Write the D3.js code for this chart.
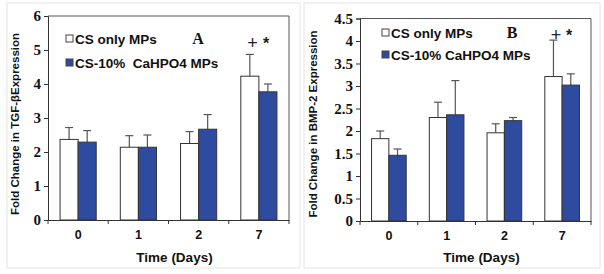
<!DOCTYPE html>
<html lang="en">
<head>
<meta charset="utf-8">
<title>Fold change bars</title>
<script src="https://d3js.org/d3.v7.min.js"></script>
<style>
  body { margin: 0; background: #fff; }
  svg { display: block; }
  .leg { white-space: pre; }
</style>
</head>
<body>
<script>
// data
const days = ["0", "1", "2", "7"];
const seriesNamesA = ["CS only MPs", "CS-10%  CaHPO4 MPs"];
const seriesNamesB = ["CS only MPs", "CS-10% CaHPO4 MPs"];

const tgfCS     = [2.37, 2.14, 2.25, 4.23];
const tgfCSErr  = [0.35, 0.34, 0.35, 0.64];
const tgfCa     = [2.29, 2.14, 2.67, 3.77];
const tgfCaErr  = [0.34, 0.36, 0.43, 0.23];

const bmpCS     = [1.83, 2.30, 1.96, 3.21];
const bmpCSErr  = [0.17, 0.34, 0.20, 0.81];
const bmpCa     = [1.46, 2.36, 2.23, 3.02];
const bmpCaErr  = [0.14, 0.76, 0.07, 0.25];

const tgfTicks = [0, 1, 2, 3, 4, 5, 6];
const bmpTicks = [0, 0.5, 1, 1.5, 2, 2.5, 3, 3.5, 4, 4.5];

const W = 604, H = 274;
const blue = "#2f4b9f";

const svg = d3.select("body").append("svg")
  .attr("width", W).attr("height", H);

function panel(opt) {
  const g = svg.append("g");

  // faint frame round each panel
  g.append("rect")
    .attr("x", opt.frame[0]).attr("y", opt.frame[1])
    .attr("width", opt.frame[2]).attr("height", opt.frame[3])
    .attr("fill", "none").attr("stroke", "#e4e4e4");

  const x = d3.scaleBand().domain(days).range([opt.left, opt.right]);
  const y = d3.scaleLinear().domain([0, opt.max]).range([opt.bottom, opt.top]);
  const bw = x.bandwidth() * 0.3;

  const rows = days.map((d, i) => ({
    day: d,
    v: [opt.cs[i], opt.ca[i]],
    e: [opt.csErr[i], opt.caErr[i]]
  }));

  // bars
  const grp = g.selectAll(".grp").data(rows).enter().append("g")
    .attr("transform", d => "translate(" + (x(d.day) + x.bandwidth() * 0.2) + ",0)");

  [0, 1].forEach(k => {
    grp.append("line")
      .attr("x1", k * bw + bw / 2).attr("x2", k * bw + bw / 2)
      .attr("y1", d => y(d.v[k])).attr("y2", d => y(d.v[k] + d.e[k]))
      .attr("stroke", "#555").attr("stroke-width", 1.2);
    grp.append("line")
      .attr("x1", k * bw + bw / 2 - 4).attr("x2", k * bw + bw / 2 + 4)
      .attr("y1", d => y(d.v[k] + d.e[k])).attr("y2", d => y(d.v[k] + d.e[k]))
      .attr("stroke", "#555").attr("stroke-width", 1.2);
    grp.append("rect")
      .attr("x", k * bw).attr("width", bw)
      .attr("y", d => y(d.v[k]))
      .attr("height", d => y(0) - y(d.v[k]))
      .attr("fill", k === 0 ? "#fff" : blue)
      .attr("stroke", "#333").attr("stroke-width", 1);
  });

  // plot box
  g.append("path")
    .attr("d", "M" + opt.left + "," + opt.top + "H" + opt.right + "V" + opt.bottom)
    .attr("fill", "none").attr("stroke", "#555").attr("stroke-width", 1);

  // left axis
  const la = g.append("g")
    .attr("transform", "translate(" + opt.left + ",0)")
    .call(d3.axisLeft(y).tickValues(opt.ticks).tickFormat(d => String(d))
      .tickSize(4).tickPadding(3));
  la.select(".domain").attr("stroke", "#333");
  la.selectAll(".tick line").attr("stroke", "#333");
  la.selectAll("text")
    .attr("font-family", "Liberation Serif, serif")
    .attr("font-weight", "bold").attr("font-size", 15).attr("fill", "#111");

  // bottom axis: ticks between groups
  const ba = g.append("g")
    .attr("transform", "translate(0," + opt.bottom + ")")
    .call(d3.axisBottom(x).tickSize(0).tickPadding(10));
  ba.select(".domain").attr("stroke", "#333");
  ba.selectAll("text")
    .attr("font-family", "Liberation Sans, Arial, sans-serif")
    .attr("font-weight", "bold").attr("font-size", 12.5).attr("fill", "#111");
  ba.selectAll(".sep").data(days).enter().append("line")
    .attr("x1", d => x(d)).attr("x2", d => x(d))
    .attr("y1", 0).attr("y2", 4).attr("stroke", "#333");
  ba.append("line")
    .attr("x1", opt.right).attr("x2", opt.right)
    .attr("y1", 0).attr("y2", 4).attr("stroke", "#333");

  // axis titles
  g.append("text")
    .attr("x", (opt.left + opt.right) / 2 + 6).attr("y", 262)
    .attr("text-anchor", "middle")
    .attr("font-family", "Liberation Sans, Arial, sans-serif")
    .attr("font-weight", "bold").attr("font-size", 13.5).attr("fill", "#111")
    .text("Time (Days)");

  g.append("text")
    .attr("transform", "translate(" + opt.ylabX + ",124) rotate(-90)")
    .attr("text-anchor", "middle")
    .attr("font-family", "Liberation Sans, Arial, sans-serif")
    .attr("font-weight", "bold").attr("font-size", 11.5).attr("fill", "#111")
    .text(opt.ylabel);

  // legend
  opt.names.forEach((s, i) => {
    const ly = opt.legY + i * opt.legGap;
    g.append("rect")
      .attr("x", opt.legX).attr("y", ly - 4).attr("width", 7).attr("height", 7)
      .attr("fill", i === 0 ? "#fff" : blue).attr("stroke", "#444");
    g.append("text")
      .attr("class", "leg")
      .attr("x", opt.legX + 9).attr("y", ly + 5)
      .attr("font-family", "Liberation Sans, Arial, sans-serif")
      .attr("font-weight", "bold").attr("font-size", 13.5).attr("fill", "#111")
      .text(s);
  });

  // panel letter
  g.append("text")
    .attr("x", opt.letterX).attr("y", opt.legY + 5)
    .attr("text-anchor", "middle")
    .attr("font-family", "Liberation Serif, serif")
    .attr("font-weight", "bold").attr("font-size", 16).attr("fill", "#111")
    .text(opt.letter);

  // significance marks above day 7
  const last = rows[3];
  const xs = x(last.day) + x.bandwidth() * 0.2;
  g.append("text")
    .attr("x", xs + bw * 0.65).attr("y", opt.markY)
    .attr("text-anchor", "middle")
    .attr("font-family", "Liberation Sans, Arial, sans-serif")
    .attr("font-size", 18).attr("fill", "#222")
    .text("+");
  g.append("text")
    .attr("x", xs + bw * 1.4).attr("y", opt.markY)
    .attr("text-anchor", "middle")
    .attr("font-family", "Liberation Sans, Arial, sans-serif")
    .attr("font-weight", "bold").attr("font-size", 16).attr("fill", "#222")
    .text("*");
}

panel({
  frame: [7, 3, 293, 265],
  left: 48, right: 289, top: 16, bottom: 220, max: 6, ticks: tgfTicks,
  cs: tgfCS, csErr: tgfCSErr, ca: tgfCa, caErr: tgfCaErr, names: seriesNamesA,
  ylabel: "Fold Change in TGF-\u03b2Expression", ylabX: 19,
  legX: 66, legY: 39, legGap: 24, letter: "A", letterX: 198, markY: 49
});

panel({
  frame: [304, 3, 296, 265],
  left: 360, right: 591, top: 18.5, bottom: 221, max: 4.5, ticks: bmpTicks,
  cs: bmpCS, csErr: bmpCSErr, ca: bmpCa, caErr: bmpCaErr, names: seriesNamesB,
  ylabel: "Fold Change in BMP-2 Expression", ylabX: 317,
  legX: 382, legY: 33, legGap: 22, letter: "B", letterX: 512, markY: 41
});
</script>
</body>
</html>
